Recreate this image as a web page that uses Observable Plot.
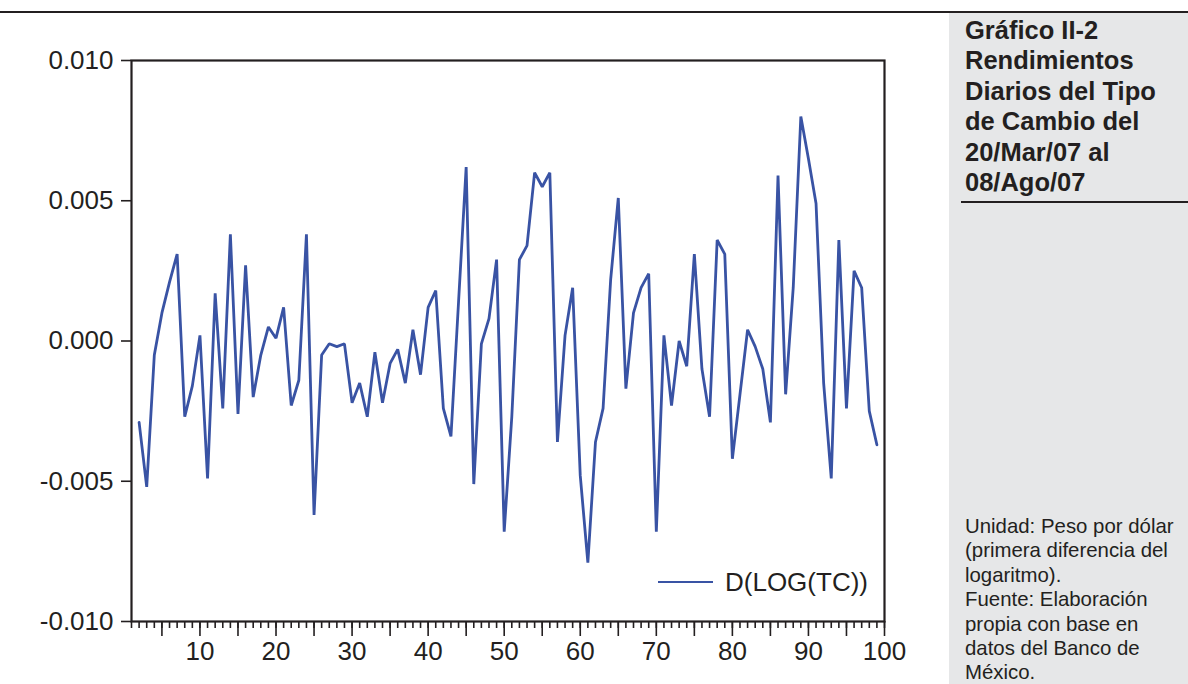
<!DOCTYPE html>
<html>
<head>
<meta charset="utf-8">
<script src="https://cdn.jsdelivr.net/npm/d3@7"></script>
<script src="https://cdn.jsdelivr.net/npm/@observablehq/plot@0.6"></script>
<style>
  html, body { margin: 0; padding: 0; background: #fff; }
  body { width: 1188px; height: 684px; position: relative; overflow: hidden; font-family: "Liberation Sans", Arial, sans-serif; color: #231f20; }
  #topline { position: absolute; left: 0; top: 11px; width: 1188px; height: 2px; background: #231f20; }
  #panel { position: absolute; left: 949px; top: 13px; width: 239px; height: 671px; background: #e6e7e8; }
  #title { position: absolute; left: 965px; top: 15px; font-weight: bold; font-size: 25.5px; line-height: 30.4px; white-space: nowrap; }
  #titleline { position: absolute; left: 961px; top: 201px; width: 227px; height: 2px; background: #231f20; }
  #note { position: absolute; left: 965px; top: 514px; font-size: 20.4px; line-height: 24.4px; white-space: nowrap; }
  #chart { position: absolute; left: 0; top: 0; }
  #legend { position: absolute; left: 658px; top: 566px; height: 32px; display: flex; align-items: center; font-size: 26px; }
  #legend .sw { width: 55px; height: 2.6px; background: #3953a4; margin-right: 12px; }
</style>
</head>
<body>
<div id="topline"></div>
<div id="panel"></div>
<div id="title"></div>
<div id="titleline"></div>
<div id="note"></div>
<div id="chart"></div>
<div id="legend"><div class="sw"></div><span id="legtext"></span></div>
<script>
// ---- data ----
const titleLines = ["Gráfico II-2", "Rendimientos", "Diarios del Tipo", "de Cambio del", "20/Mar/07 al", "08/Ago/07"];
const noteLines = ["Unidad: Peso por dólar", "(primera diferencia del", "logaritmo).", "Fuente: Elaboración", "propia con base en", "datos del Banco de", "México."];
const seriesName = "D(LOG(TC))";
const obs = [2,3,4,5,6,7,8,9,10,11,12,13,14,15,16,17,18,19,20,21,22,23,24,25,26,27,28,29,30,31,32,33,34,35,36,37,38,39,40,41,42,43,44,45,46,47,48,49,50,51,52,53,54,55,56,57,58,59,60,61,62,63,64,65,66,67,68,69,70,71,72,73,74,75,76,77,78,79,80,81,82,83,84,85,86,87,88,89,90,91,92,93,94,95,96,97,98,99];
const dlogtc = [
  -0.0029, -0.0052, -0.0005, 0.0010, 0.0021, 0.0031, -0.0027, -0.0016, 0.0002, -0.0049,
   0.0017, -0.0024, 0.0038, -0.0026, 0.0027, -0.0020, -0.0005, 0.0005, 0.0001, 0.0012,
  -0.0023, -0.0014, 0.0038, -0.0062, -0.0005, -0.0001, -0.0002, -0.0001, -0.0022, -0.0015,
  -0.0027, -0.0004, -0.0022, -0.0008, -0.0003, -0.0015, 0.0004, -0.0012, 0.0012, 0.0018,
  -0.0024, -0.0034, 0.0014, 0.0062, -0.0051, -0.0001, 0.0008, 0.0029, -0.0068, -0.0027,
   0.0029, 0.0034, 0.0060, 0.0055, 0.0060, -0.0036, 0.0002, 0.0019, -0.0048, -0.0079,
  -0.0036, -0.0024, 0.0022, 0.0051, -0.0017, 0.0010, 0.0019, 0.0024, -0.0068, 0.0002,
  -0.0023, 0.0000, -0.0009, 0.0031, -0.0010, -0.0027, 0.0036, 0.0031, -0.0042, -0.0019,
   0.0004, -0.0002, -0.0010, -0.0029, 0.0059, -0.0019, 0.0019, 0.0080, 0.0065, 0.0049,
  -0.0015, -0.0049, 0.0036, -0.0024, 0.0025, 0.0019, -0.0025, -0.0037
];
const xDomain = [1, 100];
const yDomain = [-0.010, 0.010];
const yTicks = [-0.010, -0.005, 0.000, 0.005, 0.010];
const xMinorTicks = [1,2,3,4,5,6,7,8,9,10,11,12,13,14,15,16,17,18,19,20,21,22,23,24,25,26,27,28,29,30,31,32,33,34,35,36,37,38,39,40,41,42,43,44,45,46,47,48,49,50,51,52,53,54,55,56,57,58,59,60,61,62,63,64,65,66,67,68,69,70,71,72,73,74,75,76,77,78,79,80,81,82,83,84,85,86,87,88,89,90,91,92,93,94,95,96,97,98,99,100];
const xMidTicks = [5,15,25,35,45,55,65,75,85,95];
const xLabelTicks = [10,20,30,40,50,60,70,80,90,100];

const data = obs.map((o, i) => ({obs: o, v: dlogtc[i]}));
const ink = "#231f20";
const lineColor = "#3953a4";

document.getElementById("title").innerHTML = titleLines.join("<br>");
document.getElementById("note").innerHTML = noteLines.join("<br>");
document.getElementById("legtext").textContent = seriesName;

const chart = Plot.plot({
  width: 940,
  height: 684,
  marginLeft: 131,
  marginRight: 56,
  marginTop: 60,
  marginBottom: 63,
  style: {fontFamily: "Liberation Sans, Arial, sans-serif", fontSize: "26px", color: ink, background: "transparent", overflow: "visible"},
  x: {domain: xDomain, label: null},
  y: {domain: yDomain, label: null},
  marks: [
    Plot.axisX({ticks: xMinorTicks, tickSize: 7, text: null, label: null, stroke: ink, strokeWidth: 1.6}),
    Plot.axisX({ticks: xMidTicks, tickSize: 15, text: null, label: null, stroke: ink, strokeWidth: 1.6}),
    Plot.axisX({ticks: xLabelTicks, tickSize: 15, tickPadding: 5, stroke: ink, strokeWidth: 1.6, fill: ink, fontSize: 26, label: null, tickFormat: d => String(d)}),
    Plot.axisY({ticks: yTicks, tickSize: 10, tickPadding: 8, stroke: ink, strokeWidth: 1.6, fill: ink, fontSize: 26, label: null, tickFormat: d => d.toFixed(3)}),
    Plot.lineY(data, {x: "obs", y: "v", stroke: lineColor, strokeWidth: 2.8, strokeLinejoin: "miter"}),
    Plot.frame({stroke: ink, strokeWidth: 2.2})
  ]
});
document.getElementById("chart").appendChild(chart);
</script>
</body>
</html>
